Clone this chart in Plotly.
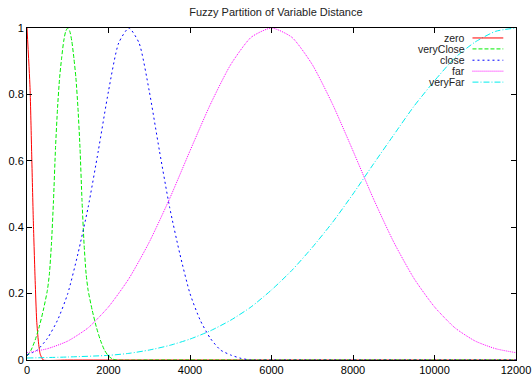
import plotly.graph_objects as go

# Membership functions of the linguistic variable "Distance" (sampled values)
zero_x = [0, 74, 115, 155, 200, 237, 280, 319, 360, 400, 1000, 12000]
zero_y = [1.0, 0.82, 0.62, 0.42, 0.24, 0.12, 0.055, 0.02, 0.007, 0.0, 0.0, 0.0]

very_close_x = [0, 100, 200, 300, 400, 500, 550, 600, 650, 700, 750, 800, 850, 900,
                950, 1000, 1050, 1100, 1150, 1200, 1250, 1300, 1350, 1400, 1450,
                1500, 1600, 1700, 1800, 1900, 2000, 2100, 2200, 3000, 12000]
very_close_y = [0.012, 0.03, 0.06, 0.10, 0.15, 0.21, 0.26, 0.35, 0.48, 0.64, 0.76,
                0.85, 0.91, 0.96, 0.99, 1.0, 0.99, 0.96, 0.91, 0.85, 0.76, 0.64,
                0.48, 0.35, 0.26, 0.21, 0.15, 0.10, 0.06, 0.03, 0.012, 0.003, 0.0,
                0.0, 0.0]

close_x = [0, 250, 500, 750, 1000, 1250, 1500, 1750, 2000, 2250, 2500, 2750, 3000,
           3250, 3500, 3750, 4000, 4250, 4500, 4750, 5000, 5250, 5500, 6000, 12000]
close_y = [0.015, 0.03, 0.065, 0.12, 0.20, 0.32, 0.46, 0.63, 0.81, 0.955, 1.0, 0.955,
           0.81, 0.63, 0.46, 0.32, 0.20, 0.12, 0.065, 0.03, 0.015, 0.005, 0.0, 0.0, 0.0]

far_x = [0, 500, 1000, 1500, 2000, 2500, 3000, 3500, 4000, 4500, 5000, 5500, 6000,
         6500, 7000, 7500, 8000, 8500, 9000, 9500, 10000, 10500, 11000, 11500, 12000]
far_y = [0.022, 0.034, 0.057, 0.097, 0.16, 0.245, 0.355, 0.486, 0.63, 0.77, 0.89, 0.972,
         1.0, 0.972, 0.89, 0.77, 0.63, 0.486, 0.355, 0.245, 0.16, 0.097, 0.057,
         0.034, 0.022]

very_far_x = [0, 1000, 2000, 2500, 3000, 3500, 4000, 4500, 5000, 5500, 6000, 6500,
              7000, 7500, 8000, 8500, 9000, 9500, 10000, 10500, 11000, 11500, 12000]
very_far_y = [0.006, 0.009, 0.014, 0.02, 0.03, 0.044, 0.063, 0.088, 0.12, 0.16, 0.211,
              0.27, 0.339, 0.415, 0.50, 0.59, 0.678, 0.765, 0.841, 0.91, 0.958, 0.99,
              1.0]

names = ["zero", "veryClose", "close", "far", "veryFar"]
colors = ["#ff0000", "#00ee00", "#0000ff", "#ff00ff", "#00eeee"]
dashes = ["solid", "4px,2px", "2px,3px", "1px,1px", "6px,2px,1px,2px"]

x_ticks = [0, 2000, 4000, 6000, 8000, 10000, 12000]
y_ticks = [0, 0.2, 0.4, 0.6, 0.8, 1]

series = [(zero_x, zero_y), (very_close_x, very_close_y), (close_x, close_y),
          (far_x, far_y), (very_far_x, very_far_y)]

fig = go.Figure()
for (xs, ys), name, color, dash in zip(series, names, colors, dashes):
    fig.add_trace(go.Scatter(
        x=xs, y=ys, name=name, mode="lines",
        line=dict(color=color, width=1, dash=dash, shape="spline", smoothing=0.6),
        showlegend=False,
    ))

# gnuplot-style key: label text right-aligned, line sample to its right
key_rows = [0.970, 0.937, 0.903, 0.870, 0.837]
for name, color, dash, ky in zip(names, colors, dashes, key_rows):
    fig.add_annotation(x=0.898, y=ky, xref="paper", yref="paper", text=name,
                       showarrow=False, xanchor="right", yanchor="middle",
                       borderpad=0, font=dict(size=10.5, color="#222222"))
    fig.add_shape(type="line", xref="paper", yref="paper",
                  x0=0.911, x1=0.974, y0=ky, y1=ky,
                  line=dict(color=color, width=1, dash=dash))

axis_common = dict(
    showgrid=False, zeroline=False, showline=True, linecolor="black", linewidth=1,
    mirror="allticks", ticks="inside", ticklen=5, tickcolor="black", tickwidth=1,
    tickfont=dict(size=11, color="black"), automargin=False,
)

fig.update_layout(
    width=532, height=377,
    margin=dict(l=27, r=16, t=28, b=17, autoexpand=False),
    paper_bgcolor="white", plot_bgcolor="white",
    font=dict(family="Liberation Sans, Arial, sans-serif", size=11, color="black"),
    title=dict(text="Fuzzy Partition of Variable Distance", x=0.509, xref="paper",
               xanchor="center", y=0.968, yref="container", yanchor="middle",
               font=dict(size=11, color="#222222")),
    xaxis=dict(range=[0, 12000], tickvals=x_ticks, tickformat="d", **axis_common),
    yaxis=dict(range=[0, 1], tickvals=y_ticks, **axis_common),
)

fig.write_html("out.html")
